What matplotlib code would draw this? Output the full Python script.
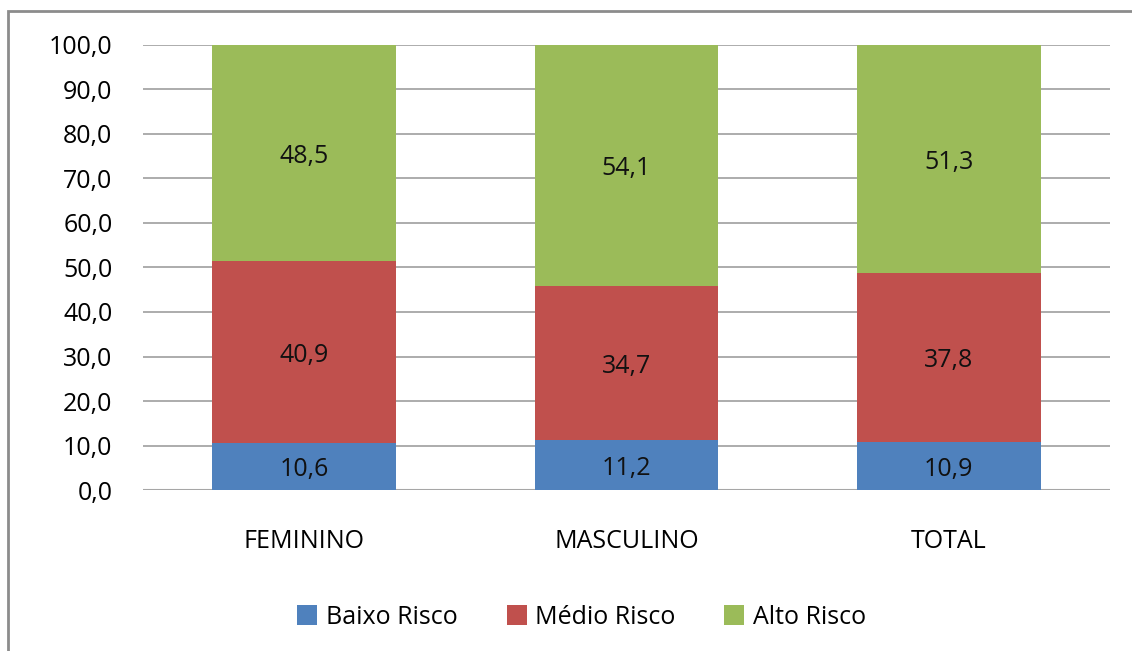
import matplotlib
matplotlib.use('Agg')
import matplotlib.pyplot as plt
import numpy as np
from matplotlib.patches import Rectangle

plt.rcParams['font.family'] = ['Open Sans', 'DejaVu Sans']

#%% data
categories = ['FEMININO', 'MASCULINO', 'TOTAL']
series_names = ['Baixo Risco', 'Médio Risco', 'Alto Risco']
baixo = [10.6, 11.2, 10.9]
medio = [40.9, 34.7, 37.8]
alto = [48.5, 54.1, 51.3]
colors = ['#4F81BD', '#C0504D', '#9BBB59']
yticks = np.arange(0, 101, 10)

#%% plot
fs = 18
fig = plt.figure(figsize=(11.32, 6.51), dpi=100)
ax = fig.add_axes([0.1263, 0.2473, 0.8543, 0.6836])

x = np.arange(len(categories))
bottom = np.zeros(len(categories))
for vals, name, col in zip([baixo, medio, alto], series_names, colors):
    bars = ax.bar(x, vals, width=0.57, bottom=bottom, color=col, label=name, zorder=3)
    for b, v, b0 in zip(bars, vals, bottom):
        ax.text(b.get_x() + b.get_width() / 2, b0 + v / 2 - 0.8, f'{v:.1f}'.replace('.', ','),
                ha='center', va='center', fontsize=fs, color='#111111', zorder=4)
    bottom += np.array(vals)

ax.set_xlim(-0.5, 2.5)
ax.set_ylim(0, 100)
ax.set_yticks(yticks)
ax.set_yticklabels([f'{t:.1f}'.replace('.', ',') for t in yticks], fontsize=fs)
ax.set_xticks(x)
ax.set_xticklabels(categories, fontsize=fs)
ax.tick_params(axis='both', length=0)
ax.tick_params(axis='y', pad=22)
ax.tick_params(axis='x', pad=28)
ax.yaxis.grid(True, color='#A6A6A6', linewidth=1.3, zorder=0)
for s in ax.spines.values():
    s.set_visible(False)
ax.axhline(0, color='#A6A6A6', linewidth=1.5, zorder=2)

leg = fig.legend(loc='center', bbox_to_anchor=(0.514, 0.052), ncol=3, frameon=False,
                 fontsize=fs, handlelength=0.8, handleheight=0.8, columnspacing=1.95,
                 handletextpad=0.35)

# outer chart border
fig.patches.append(Rectangle((8 / 1132, -0.1), 1.2, 1 - 11 / 651 + 0.1,
                             transform=fig.transFigure, fill=False,
                             edgecolor='#8C8C8C', linewidth=2))

fig.savefig('out.png', dpi=100)
